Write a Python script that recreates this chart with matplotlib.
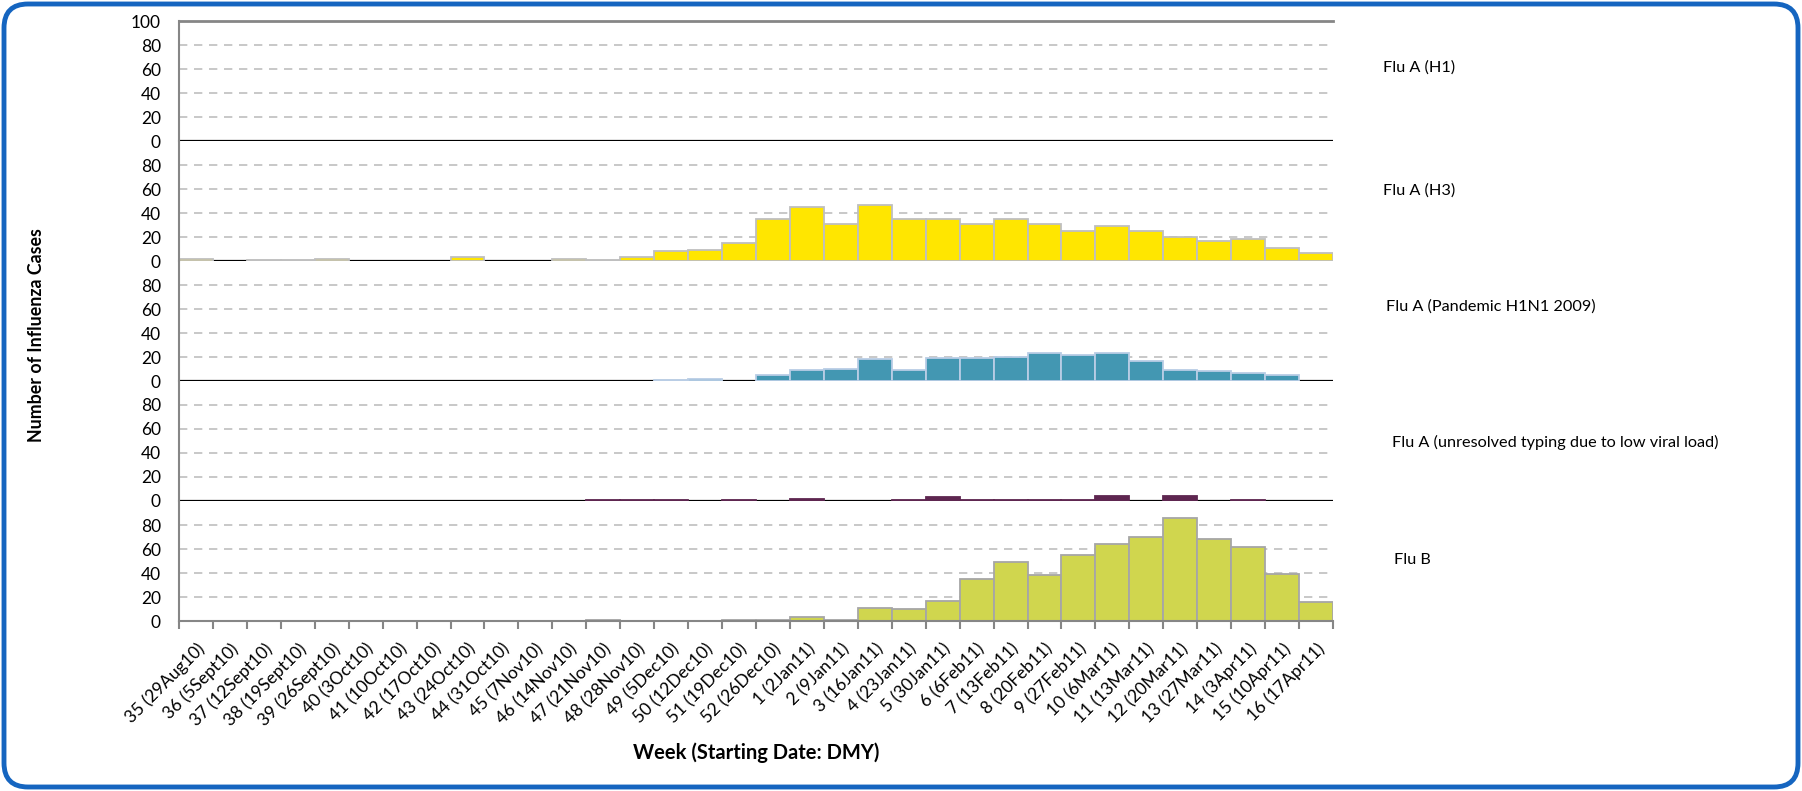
import matplotlib
matplotlib.use("Agg")
import matplotlib.pyplot as plt
from matplotlib.patches import FancyBboxPatch
import numpy as np

plt.rcParams['font.family'] = ['Lato', 'DejaVu Sans']

weeks = ["35 (29Aug10)", "36 (5Sept10)", "37 (12Sept10)", "38 (19Sept10)", "39 (26Sept10)",
         "40 (3Oct10)", "41 (10Oct10)", "42 (17Oct10)", "43 (24Oct10)", "44 (31Oct10)",
         "45 (7Nov10)", "46 (14Nov10)", "47 (21Nov10)", "48 (28Nov10)", "49 (5Dec10)",
         "50 (12Dec10)", "51 (19Dec10)", "52 (26Dec10)", "1 (2Jan11)", "2 (9Jan11)",
         "3 (16Jan11)", "4 (23Jan11)", "5 (30Jan11)", "6 (6Feb11)", "7 (13Feb11)",
         "8 (20Feb11)", "9 (27Feb11)", "10 (6Mar11)", "11 (13Mar11)", "12 (20Mar11)",
         "13 (27Mar11)", "14 (3Apr11)", "15 (10Apr11)", "16 (17Apr11)"]

flu_a_h1 = [0] * 34
flu_a_h3 = [2, 0, 1, 1, 2, 0, 0, 0, 3, 0, 0, 2, 1, 3, 8, 9, 15, 35,
            45, 31, 47, 35, 35, 31, 35, 31, 25, 29, 25, 20, 17, 18, 11, 7]
flu_a_pandemic = [0, 0, 0, 0, 0, 0, 0, 0, 0, 0, 0, 0, 0, 0, 1, 2, 0, 5,
                  9, 10, 18, 9, 19, 19, 20, 23, 22, 23, 17, 9, 8, 7, 5, 0]
flu_a_unresolved = [0, 0, 0, 0, 0, 0, 0, 0, 0, 0, 0, 0, 1, 1, 1, 0, 1, 0,
                    2, 0, 0, 1, 3, 1, 1, 1, 1, 4, 0, 4, 0, 1, 0, 0]
flu_b = [0, 0, 0, 0, 0, 0, 0, 0, 0, 0, 0, 0, 1, 0, 0, 0, 1, 1,
         3, 1, 11, 10, 17, 35, 49, 38, 55, 64, 70, 86, 68, 62, 39, 16]

series_names = ["Flu A (H1)", "Flu A (H3)", "Flu A (Pandemic H1N1 2009)",
                "Flu A (unresolved typing due to low viral load)", "Flu B"]
series = [flu_a_h1, flu_a_h3, flu_a_pandemic, flu_a_unresolved, flu_b]
colors = ["#FFE600", "#FFE600", "#4397B2", "#5E2650", "#D0D64E"]
edges = ["#BFBFBF", "#BFBFBF", "#B9CDE5", "#5E2650", "#A6A6A6"]
label_pos = [(1383, 68), (1383, 191), (1386, 307), (1392, 442), (1394, 560)]

W, H = 1802, 791
fig = plt.figure(figsize=(W / 100, H / 100), dpi=100)

# border
bg = fig.add_axes([0, 0, 1, 1], zorder=-10)
bg.set_xlim(0, W)
bg.set_ylim(0, H)
bg.axis('off')
bg.add_patch(FancyBboxPatch((4, 4), W - 8, H - 8,
                            boxstyle="round,pad=0,rounding_size=24",
                            facecolor='white', edgecolor='#1565C0', linewidth=3.5))

left_px, right_px = 179, 1333
top_px, panel_h = 21, 120
x = np.arange(len(weeks))
gray = '#868686'

for i, vals in enumerate(series):
    top = top_px + i * panel_h
    ax = fig.add_axes([left_px / W, 1 - (top + panel_h) / H,
                       (right_px - left_px) / W, panel_h / H])
    ax.set_facecolor('none')
    ax.set_xlim(-0.5, len(weeks) - 0.5)
    ax.set_ylim(0, 100)
    for g in (20, 40, 60, 80):
        ax.axhline(g, color='#BFBFBF', lw=1.2, ls=(0, (5, 4)), zorder=0)
    if i < 4:
        ax.axhline(0, color='black', lw=1.6, zorder=1)
    lws = [1.3 if v > 0 else 0 for v in vals]
    ax.bar(x, vals, width=1.0, color=colors[i], edgecolor=edges[i],
           linewidth=lws, zorder=2)
    for s in ('right', 'top', 'bottom'):
        ax.spines[s].set_visible(False)
    ax.spines['left'].set_color(gray)
    ax.spines['left'].set_linewidth(1.5)
    if i == 0:
        ax.spines['top'].set_visible(True)
        ax.spines['top'].set_color(gray)
        ax.spines['top'].set_linewidth(2)
        ax.set_yticks([0, 20, 40, 60, 80, 100])
    else:
        ax.set_yticks([0, 20, 40, 60, 80])
    ax.tick_params(axis='y', length=0, pad=13, labelsize=12.5, labelcolor='black')
    if i == 4:
        ax.spines['bottom'].set_visible(True)
        ax.spines['bottom'].set_color(gray)
        ax.spines['bottom'].set_linewidth(1.5)
        ax.set_xticks(x)
        ax.set_xticklabels(weeks, rotation=45, ha='right', va='top',
                           rotation_mode='anchor', fontsize=12.5)
        ax.set_xticks(np.arange(-0.5, len(weeks), 1.0), minor=True)
        ax.tick_params(axis='x', which='major', length=0, pad=14)
        ax.tick_params(axis='x', which='minor', length=6, width=1.5, color=gray)
    else:
        ax.set_xticks([])
    lx, ly = label_pos[i]
    fig.text(lx / W, 1 - ly / H, series_names[i], fontsize=11.7,
             ha='left', va='center')

fig.text(37 / W, 1 - 335 / H, "Number of Influenza Cases", rotation=90,
         fontsize=12.8, fontweight='bold', ha='center', va='center')
fig.text((left_px + right_px) / 2 / W, 1 - 753 / H, "Week (Starting Date: DMY)",
         fontsize=14.5, fontweight='bold', ha='center', va='center')

fig.savefig("out.png", dpi=100)
